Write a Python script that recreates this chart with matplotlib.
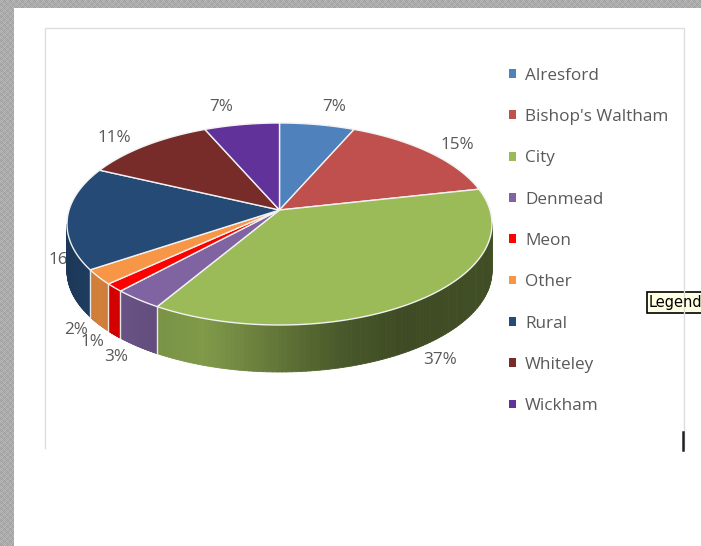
import numpy as np
import matplotlib
matplotlib.use("Agg")
import matplotlib.pyplot as plt
from matplotlib.patches import Patch, Rectangle
from matplotlib.collections import PolyCollection
from matplotlib.colors import to_rgb

plt.rcParams['font.family'] = ['Open Sans', 'DejaVu Sans']

names = ["Alresford", "Bishop's Waltham", "City", "Denmead", "Meon",
         "Other", "Rural", "Whiteley", "Wickham"]
# slightly finer than the printed labels
shares = [6.5, 14.9, 36.8, 3.3, 1.3, 2.4, 16.3, 11.4, 6.5]
pct_labels = ["7%", "15%", "37%", "3%", "1%", "2%", "16%", "11%", "7%"]
colors = ["#4f81bd", "#c0504d", "#9bbb59", "#8064a2", "#ff0000",
          "#f79646", "#254a75", "#772c2a", "#60329a"]
label_xy = [(334, 107), (457, 145), (440, 360), (116, 357), (92, 342),
            (76, 330), (65, 260), (114, 138), (221, 107)]

W, H = 701, 546
CX, CY, RX, RY, DEPTH = 279.5, 224, 212.5, 101, 47
APEX_Y = 210
TEXT = "#595959"

fig = plt.figure(figsize=(W / 100, H / 100), dpi=100)
base = fig.add_axes([0, 0, 1, 1], zorder=0)
base.axis("off")

# dithered window edge
yy, xx = np.mgrid[0:H, 0:W]
tile = 0.66 + 0.07 * ((xx + yy) % 2) - 0.04 * ((xx // 3 + yy // 3) % 2)
tile = np.where((xx < 14) | (yy < 8), tile, 1.0)
base.imshow(tile, cmap="gray", vmin=0, vmax=1, extent=(0, W, H, 0),
            interpolation="nearest", aspect="auto")
base.set_xlim(0, W)
base.set_ylim(H, 0)

# chart frame, cut off at the bottom
base.plot([45, 45, 684, 684], [448, 28, 28, 448], color="#dedede", lw=1.0)
base.plot([682.5, 682.5], [432, 450], color="#222222", lw=1.8)

for (x, y), txt in zip(label_xy, pct_labels):
    base.text(x, y, txt, fontsize=12.3, color=TEXT, ha="center", va="center")

# legend
handles = [Patch(facecolor=c, edgecolor="none") for c in colors]
base.legend(handles, names, loc="upper left", bbox_to_anchor=(503.8 / W, 1 - 62.5 / H),
            bbox_transform=fig.transFigure, frameon=False, fontsize=12.3,
            labelcolor=TEXT, handlelength=0.41, handleheight=0.41,
            handletextpad=0.53, labelspacing=1.482, borderpad=0.3, borderaxespad=0)

# tooltip
base.add_patch(Rectangle((646.5, 291.5), 70, 21, facecolor="#ffffe1", edgecolor="black", lw=1.2))
base.text(649, 302, "Legend", fontsize=10.5, color="black", va="center", family="DejaVu Sans")

# pie on an ellipse, centre pushed up by a projective map (the perspective of the 3D look)
ax = fig.add_axes([(CX - RX) / W, 1 - (CY + RY) / H, 2 * RX / W, 2 * RY / H], zorder=1)
ax.patch.set_alpha(0)
e = (CY - APEX_Y) / RY


def project(t):
    u, v = np.cos(t), np.sin(t)
    return u * np.sqrt(1 - e ** 2) / (e * v + 1), (v + e) / (e * v + 1)


def shade_at(x):
    return np.interp(x, [-1, -0.85, -0.6, -0.35, 0.05, 0.28, 0.57, 1],
                     [0.75, 0.85, 0.78, 0.82, 0.60, 0.48, 0.40, 0.42])


edges = 90 - np.concatenate([[0], np.cumsum(shares)]) / np.sum(shares) * 360
dy = 2 * DEPTH / (2 * RY)

polys, face = [], []
for i in range(len(shares)):
    th = np.radians(np.linspace(edges[i + 1], edges[i], 120))
    x, y = project(th)
    for k in range(len(th) - 1):
        if (y[k] + y[k + 1]) / 2 >= 0:
            continue
        polys.append([(x[k], y[k]), (x[k + 1], y[k + 1]), (x[k + 1], y[k + 1] - dy), (x[k], y[k] - dy)])
        face.append(tuple(np.array(to_rgb(colors[i])) * shade_at((x[k] + x[k + 1]) / 2)))
ax.add_collection(PolyCollection(polys, facecolors=face, edgecolors=face, linewidths=0.6, clip_on=False))

# white verticals where slices meet on the front wall
for a in edges:
    x, y = project(np.radians(a))
    if y < 0:
        ax.plot([x, x], [y, y - dy], color="#e8e8e8", lw=1.0, clip_on=False)

for i in range(len(shares)):
    th = np.radians(np.linspace(edges[i + 1], edges[i], 120))
    x, y = project(th)
    ax.fill(np.r_[0, x], np.r_[e, y], color=colors[i], ec="#f2f2f2", lw=1.0, clip_on=False)

ax.set_xlim(-1, 1)
ax.set_ylim(-1, 1)
ax.axis("off")

fig.savefig("out.png", dpi=100)
